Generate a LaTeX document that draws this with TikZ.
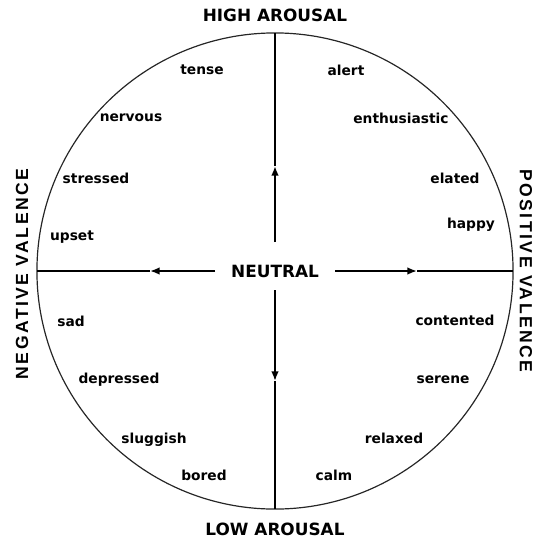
\documentclass[tikz,border=0pt]{standalone}
\usepackage{fontspec}
\setmainfont{DejaVu Sans}
\newfontfamily\sidefont[LetterSpace=14]{Liberation Sans}
\usetikzlibrary{arrows.meta}

\begin{document}
\begin{tikzpicture}[
    x=0.025cm, y=-0.025cm,
    every node/.style={font=\bfseries},
    mood/.style={font=\fontsize{9.8}{12}\selectfont\bfseries, inner sep=1pt},
    pole/.style={font=\fontsize{12}{14}\selectfont\bfseries, inner sep=1pt},
    side/.style={font=\sidefont\fontsize{12.5}{14}\selectfont\bfseries, inner sep=1pt},
    dial/.style={circle, draw=black!85, line width=0.85pt, minimum size=11.9cm, inner sep=0pt, outer sep=0pt},
    axis/.style={line width=1.3pt},
    arrow/.style={axis, -{Latex[length=2.4mm, width=1.9mm]}}
]
\useasboundingbox (0,0) rectangle (542,542);

% circle and centre
\node[dial] (wheel) at (275,271) {};
\node[pole] (neutral) at (275,271) {NEUTRAL};

% gaps round the centre label and arrow tips
\coordinate (upgap) at (275,242);
\coordinate (downgap) at (275,290);
\coordinate (leftgap) at (215,271);
\coordinate (rightgap) at (335,271);
\coordinate (uptip) at (275,166);
\coordinate (downtip) at (275,381);
\coordinate (lefttip) at (150,271);
\coordinate (righttip) at (417,271);

\draw[arrow] (upgap) -- (uptip);
\draw[axis] (uptip) -- (wheel.north);
\draw[arrow] (downgap) -- (downtip);
\draw[axis] (downtip) -- (wheel.south);
\draw[arrow] (leftgap) -- (lefttip);
\draw[axis] (lefttip) -- (wheel.west);
\draw[arrow] (rightgap) -- (righttip);
\draw[axis] (righttip) -- (wheel.east);

% axis titles
\node[pole] (high) at (275,15) {HIGH AROUSAL};
\node[pole] (low) at (275,529) {LOW AROUSAL};
\node[side, rotate=90] (negative) at (22,274) {NEGATIVE VALENCE};
\node[side, rotate=-90] (positive) at (526,271) {POSITIVE VALENCE};

% upper left
\node[mood] (tense) at (202,70) {tense};
\node[mood] (nervous) at (131,118) {nervous};
\node[mood] (stressed) at (96,178) {stressed};
\node[mood] (upset) at (72,237) {upset};

% upper right
\node[mood] (alert) at (346,70) {alert};
\node[mood] (enthusiastic) at (401,118) {enthusiastic};
\node[mood] (elated) at (455,178) {elated};
\node[mood] (happy) at (471,225) {happy};

% lower left
\node[mood] (sad) at (71,321) {sad};
\node[mood] (depressed) at (119,380) {depressed};
\node[mood] (sluggish) at (154,440) {sluggish};
\node[mood] (bored) at (204,475) {bored};

% lower right
\node[mood] (contented) at (455,320) {contented};
\node[mood] (serene) at (443,380) {serene};
\node[mood] (relaxed) at (394,438) {relaxed};
\node[mood] (calm) at (334,475) {calm};

\end{tikzpicture}
\end{document}
